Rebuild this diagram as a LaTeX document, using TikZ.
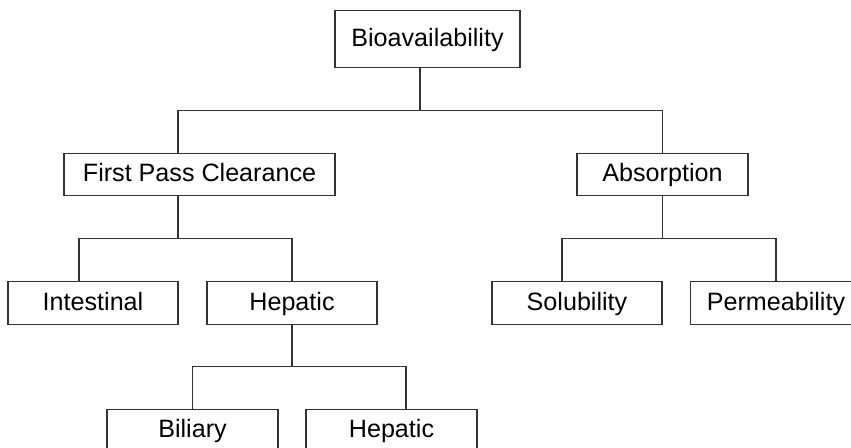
\documentclass[tikz,border=0pt]{standalone}
\usepackage{fontspec}
\setmainfont{Liberation Sans}

\begin{document}
\begin{tikzpicture}[x=0.02cm, y=-0.02cm]
        \tikzstyle{every node}+=[inner sep=0pt, font=\fontsize{14.3}{17}\selectfont, text height=10.2pt, text depth=2.2pt]
        \tikzstyle{box}=[draw=black!80, line width=0.7pt, minimum width=3.4cm, minimum height=0.85cm]
        \tikzstyle{link}=[draw=black!80, line width=0.7pt]
        \useasboundingbox (0,0) rectangle (851,447);
        \clip (0,0) rectangle (851,447);

        \node [box, minimum width=3.7cm, minimum height=1.14cm] (bio) at (427.5,39.3) {Bioavailability};

        \node [box, minimum width=5.42cm] (fpc) at (199.5,174.5) {First Pass Clearance};
        \node [box, minimum width=3.42cm] (abs) at (662.5,174.5) {Absorption};

        \node [box] (int) at (93,303) {Intestinal};
        \node [box] (hep) at (292,303) {Hepatic};
        \node [box] (sol) at (577,303) {Solubility};
        \node [box, minimum width=3.42cm] (perm) at (776,303) {Permeability};

        \node [box, minimum width=3.42cm] (bil) at (192.5,430.5) {Biliary};
        \node [box, minimum width=3.42cm] (hepb) at (391.5,430.5) {Hepatic};

        \draw [link] ([xshift=-0.15cm]bio.south) -- ++(0,42) coordinate (top);
        \draw [link] ([xshift=-0.43cm]fpc.north) |- (top) -| (abs.north);

        \draw [link] ([xshift=-0.43cm]fpc.south) -- ++(0,42) coordinate (left);
        \draw [link] ([xshift=-0.28cm]int.north) |- (left) -| (hep.north);

        \draw [link] (abs.south) -- ++(0,42) coordinate (right);
        \draw [link] ([xshift=-0.3cm]sol.north) |- (right) -| (perm.north);

        \draw [link] (hep.south) -- ++(0,42) coordinate (low);
        \draw [link] (bil.north) |- (low) -| ([xshift=0.29cm]hepb.north);
      \end{tikzpicture}
\end{document}
